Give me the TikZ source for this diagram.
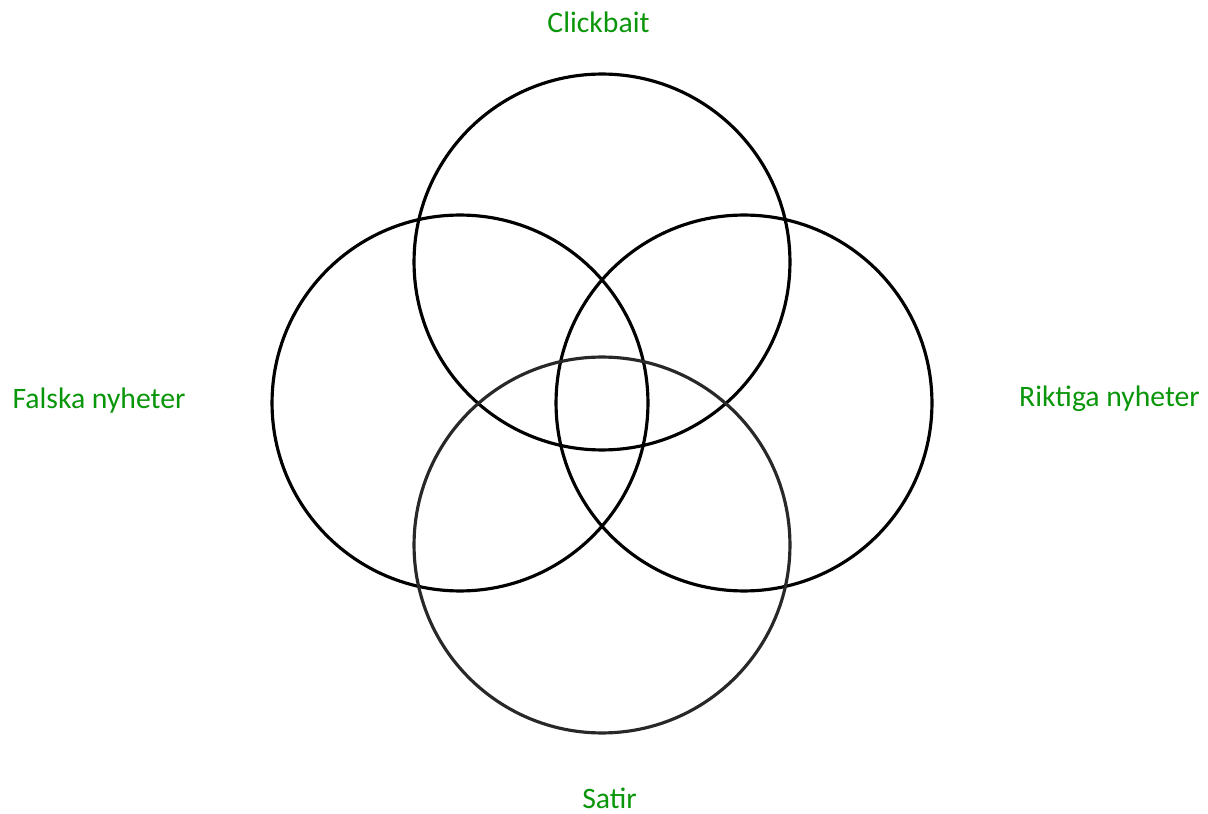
\documentclass[tikz,border=0pt]{standalone}
\usepackage{fontspec}
\setmainfont{Carlito}
\definecolor{labelgreen}{RGB}{10,150,10}
\definecolor{ringgray}{RGB}{40,40,40}
\tikzset{
  ring/.style={draw, circle, line width=1.8pt, minimum size=7.52cm, inner sep=0pt},
  setlabel/.style={text=labelgreen, font=\fontsize{16.9}{19}\selectfont, anchor=base}
}
\begin{document}
\begin{tikzpicture}[x=0.02cm, y=-0.02cm]
  \useasboundingbox (0,0) rectangle (1208,814);
  % the four sets
  \node[ring] (clickbait) at (602,262) {};
  \node[ring] (falska) at (460,403) {};
  \node[ring] (riktiga) at (744,403) {};
  \node[ring, draw=ringgray] (satir) at (602,545) {};
  % set names round the outside
  \node[setlabel] (lclickbait) at (598.5,33) {Clickbait};
  \node[setlabel] (lfalska) at (99,409) {Falska nyheter};
  \node[setlabel] (lriktiga) at (1109.5,407) {Riktiga nyheter};
  \node[setlabel] (lsatir) at (609.5,808) {Satir};
\end{tikzpicture}
\end{document}
